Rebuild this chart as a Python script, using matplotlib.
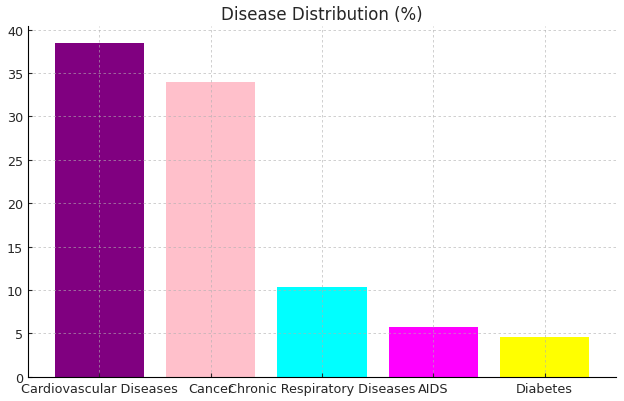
import matplotlib
matplotlib.use("Agg")
import matplotlib.pyplot as plt

# 数据
diseases = ["Cardiovascular Diseases", "Cancer", "Chronic Respiratory Diseases", "AIDS", "Diabetes"]
percentages = [38.5, 34.0, 10.3, 5.7, 4.6]
colors = ["purple", "pink", "cyan", "magenta", "yellow"]

fig, ax = plt.subplots(figsize=(6.24, 4.02), dpi=100)
fig.subplots_adjust(left=0.045, right=0.987, bottom=0.06, top=0.933)

ax.bar(diseases, percentages, color=colors)
ax.set_title("Disease Distribution (%)", fontsize=12, color="#262626", pad=5)

ax.grid(True, linestyle=(0, (3, 3)), color="#b0b0b0", alpha=0.7, linewidth=0.6)
ax.spines["top"].set_visible(False)
ax.spines["right"].set_visible(False)
ax.tick_params(direction="in", labelsize=9.2, colors="#262626", length=3)

fig.savefig("out.png")
